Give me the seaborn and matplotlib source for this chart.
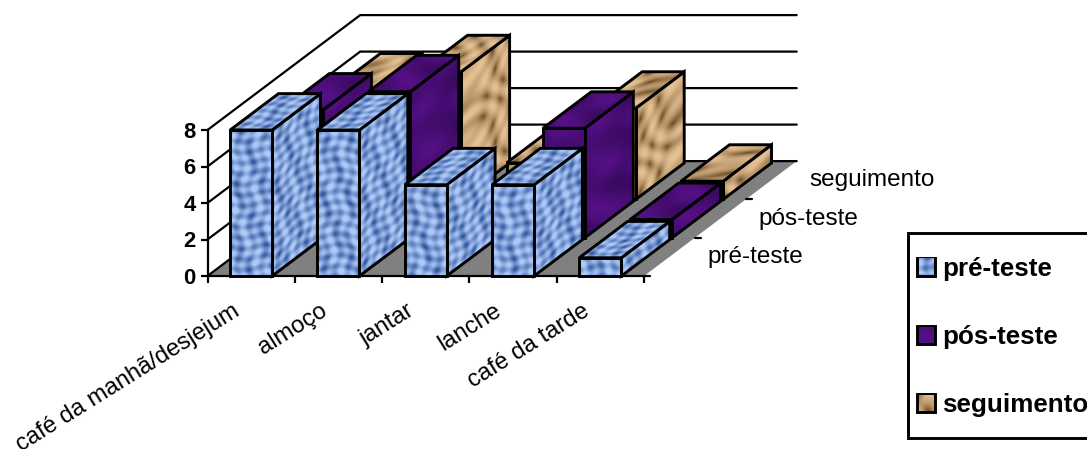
import numpy as np
import matplotlib
matplotlib.use("Agg")
import matplotlib.pyplot as plt
from matplotlib.patches import Polygon, Patch, Rectangle
from matplotlib.transforms import Affine2D, ScaledTranslation
import seaborn as sns

categories = ["café da manhã/desjejum", "almoço", "jantar", "lanche", "café da tarde"]
series_names = ["pré-teste", "pós-teste", "seguimento"]
pre_teste = [8, 8, 5, 5, 1]
pos_teste = [7, 8, 1, 6, 1]
seguimento = [6, 7, 2, 5, 1]
y_ticks = [0, 2, 4, 6, 8]

sns.set_theme(style="white")
plt.rcParams["font.family"] = ["Liberation Sans", "DejaVu Sans"]

W, H = 1087, 449
DPI = 100
LEFT, BOTTOM, PLOT_W, PLOT_H = 207.5, 276.0, 436.5, 146.0
CAT_PX = PLOT_W / 5
VAL_PX = PLOT_H / 8
PITCH_X, PITCH_Y = 50.9, 38.3          # screen shift per series of depth
DX, DY = PITCH_X / CAT_PX, PITCH_Y / VAL_PX
BAR_W = 42 / CAT_PX
BAR_DEPTH = 0.95
LW = 2.1
LW_GRID = 1.6
px = lambda s: s * 72 / DPI

STYLE = {
    "pré-teste": dict(dark=(0.14, 0.29, 0.58), light=(0.68, 0.79, 0.97), mean="#86A5DC"),
    "pós-teste": dict(dark=(0.23, 0.04, 0.38), light=(0.33, 0.06, 0.52), mean="#47107A"),
    "seguimento": dict(dark=(0.40, 0.27, 0.12), light=(0.90, 0.76, 0.58), mean="#C9A67A"),
}


def texture(name, w, h, ph):
    s = STYLE[name]
    u, v = np.meshgrid(np.arange(w) + 0.5, np.arange(h) + 0.5)
    if name == "pré-teste":
        a = np.sin(u / 1.9 + 1.4 * np.sin(v / 6.3 + ph))
        b = np.sin(v / 1.7 + 1.3 * np.sin(u / 8.1 + 2 * ph))
        lane = 0.5 * (a + b) + 0.35 * np.sin(u / 4.3 + v / 9.7 + 1.5 * ph)
        t = np.clip((lane + 1.3) / 2.2, 0, 1) ** 0.85
        t = 0.08 + 0.92 * t
    elif name == "pós-teste":
        t = 0.5 + 0.25 * np.sin(u / 11 + np.sin(v / 9 + ph)) + 0.25 * np.sin(v / 7 + u / 15 + ph)
    else:
        warp = 2.2 * np.sin(u / 13 + ph) + 1.7 * np.sin(v / 11 + 2 * ph)
        t = (np.sin((u + 1.6 * v) / 9 + warp) + 0.6 * np.sin((1.3 * u - v) / 6 + warp * 0.8) + 1.6) / 3.2
        t = np.clip(t, 0, 1) ** 0.42
    rgb = np.zeros(t.shape + (3,))
    for c in range(3):
        rgb[..., c] = s["dark"][c] + (s["light"][c] - s["dark"][c]) * t
    return np.clip(rgb, 0, 1)


def face(ax, name, origin, uvec, vvec, z, ph):
    """Textured parallelogram with black outline, in the axes' data units."""
    o, a, b = np.array(origin), np.array(uvec), np.array(vvec)
    corners = [o, o + a, o + a + b, o + b]
    tw = max(int(np.hypot(a[0] * CAT_PX, a[1] * VAL_PX)), 2)
    th = max(int(np.hypot(b[0] * CAT_PX, b[1] * VAL_PX)), 2)
    clip = Polygon(corners, closed=True, transform=ax.transData, fc="none", ec="none")
    ax.add_patch(clip)
    clip.set_clip_on(False)
    tr = Affine2D.from_values(a[0] / tw, a[1] / tw, b[0] / th, b[1] / th, o[0], o[1]) + ax.transData
    im = ax.imshow(texture(name, tw, th, ph), extent=(0, tw, 0, th), origin="lower",
                   aspect="auto", interpolation="bilinear", zorder=z, transform=tr)
    im.set_clip_path(clip)
    im.set_clip_box(ax.figure.bbox)
    ax.add_patch(Polygon(corners, closed=True, fc="none", ec="black", lw=LW, joinstyle="miter",
                         zorder=z + 1, clip_on=False))


def plot_axes(k):
    return fig.add_axes([(LEFT + k * PITCH_X) / W, 1 - (BOTTOM - k * PITCH_Y) / H,
                         PLOT_W / W, PLOT_H / H], zorder=10 - k)


fig = plt.figure(figsize=(W / DPI, H / DPI), dpi=DPI, facecolor="white")

# walls and floor
wall = fig.add_axes([LEFT / W, 1 - BOTTOM / H, PLOT_W / W, PLOT_H / H], zorder=0)
wall.set_xlim(-0.5, 4.5)
wall.set_ylim(0, 8)
wall.axis("off")
bx, by = 3 * DX, 3 * DY
wall.add_patch(Polygon([(-0.5, 0), (4.5, 0), (4.5 + bx, by), (-0.5 + bx, by)], fc="#808080", ec="none",
                       clip_on=False))
for v in y_ticks:
    wall.plot([-0.5, -0.5 + bx, 4.5 + bx], [v, v + by, v + by], color="black", lw=LW_GRID, clip_on=False,
              solid_joinstyle="miter")

# series, back to front
values = {"pré-teste": pre_teste, "pós-teste": pos_teste, "seguimento": seguimento}
front = None
for k in [2, 1, 0]:
    name = series_names[k]
    ax = plot_axes(k)
    vals = values[name]
    sns.barplot(x=categories, y=vals, order=categories, color=STYLE[name]["mean"], width=BAR_W,
                saturation=1, ax=ax, edgecolor="none")
    ax.patch.set_visible(False)
    ax.set_xlim(-0.5, 4.5)
    ax.set_ylim(0, 8)
    for i, bar in enumerate(ax.patches):
        z = 10 + 10 * i
        bar.set_zorder(z)
        x0, wd, v = bar.get_x(), bar.get_width(), bar.get_height()
        d = (BAR_DEPTH * DX, BAR_DEPTH * DY)
        face(ax, name, (x0 + wd, 0), d, (0, v), z + 1, i + 0.7 * k + 0.4)
        face(ax, name, (x0, v), (wd, 0), d, z + 3, i + 0.7 * k + 1.9)
        face(ax, name, (x0, 0), (wd, 0), (0, v), z + 5, i + 0.7 * k)
    ax.set_xlim(-0.5, 4.5)
    ax.set_ylim(0, 8)
    if k > 0:
        ax.axis("off")
    else:
        front = ax

# axes of the front plane
sns.despine(ax=front, top=True, right=True)
for sp in ("left", "bottom"):
    front.spines[sp].set_linewidth(LW_GRID)
    front.spines[sp].set_color("black")
front.set_yticks(y_ticks)
front.set_yticklabels([str(t) for t in y_ticks], fontsize=px(22), fontweight="bold", color="black")
front.set_xticks(np.arange(-0.5, 5.0, 1.0))
front.set_xticklabels([])
front.set_xticks(range(5), labels=categories, minor=True)
front.tick_params(axis="both", which="major", length=px(7), width=LW_GRID, color="black", direction="out",
                  left=True, bottom=True, pad=px(5))
front.tick_params(axis="x", which="minor", length=0, pad=px(24))
label_shift = ScaledTranslation(-19 / DPI, 0, fig.dpi_scale_trans)
for lab in front.get_xticklabels(minor=True):
    lab.set(rotation=32, ha="right", va="top", rotation_mode="anchor", fontsize=px(23.7), color="black")
    lab.set_transform(lab.get_transform() + label_shift)

# depth axis
for k in range(3):
    x = 4.5 + k * DX
    y = k * DY
    wall.plot([x, x + 6 / CAT_PX], [y, y], color="black", lw=LW_GRID, clip_on=False)
    wall.text(x + 0.5 * DX + 38 / CAT_PX, y + 0.5 * DY, series_names[k], ha="left", va="center",
              fontsize=px(24.2), color="black", clip_on=False)

# legend
fig.add_artist(Rectangle((908 / W, 1 - 438 / H), 300 / W, 205 / H, transform=fig.transFigure,
                         fc="white", ec="black", lw=LW, zorder=20))
handles = [Patch(facecolor=STYLE[n]["mean"], edgecolor="black", lw=LW) for n in series_names]
leg = fig.legend(handles, series_names, loc="upper left", bbox_to_anchor=(917 / W, 1 - 257 / H),
                 frameon=False, borderpad=0, borderaxespad=0, handlelength=0.69, handleheight=0.69,
                 handletextpad=0.27, labelspacing=1.7, labelcolor="black",
                 prop={"size": px(26), "weight": "bold"})
leg.set_zorder(21)

# texture inside the legend keys
fig.canvas.draw()
for n, h in zip(series_names, leg.legend_handles):
    e = h.get_window_extent()
    key = texture(n, int(e.width) - 2, int(e.height) - 2, 0.5)
    fig.figimage(key, xo=int(e.x0) + 2, yo=int(e.y0) + 2, origin="lower", zorder=22)

fig.savefig("out.png", dpi=DPI, facecolor="white")
